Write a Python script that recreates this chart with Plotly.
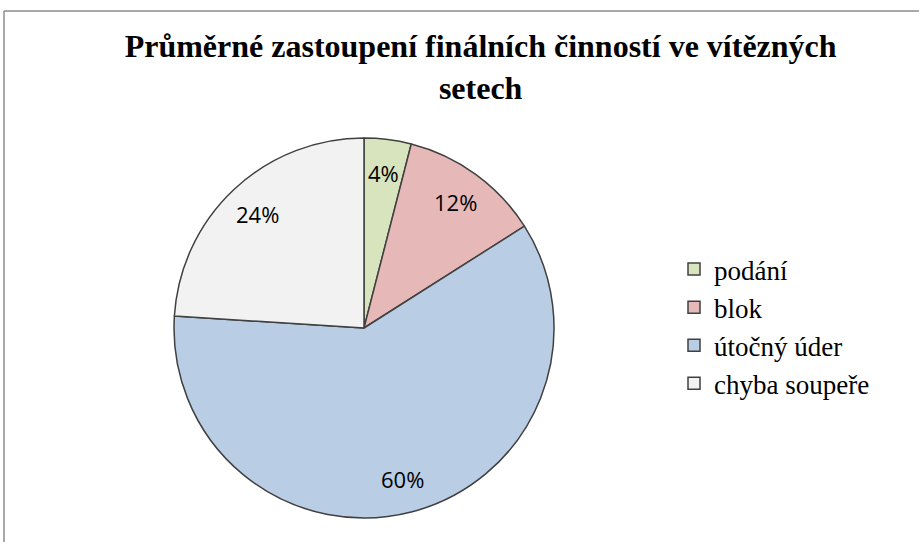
import math
import plotly.graph_objects as go

categories = ["podání", "blok", "útočný úder", "chyba soupeře"]
values = [4, 12, 60, 24]
colors = ["#D7E4BD", "#E6B9B8", "#B9CDE5", "#F2F2F2"]
title_text = "Průměrné zastoupení finálních činností ve vítězných<br>setech"

W, H = 919, 542
cx, cy, r = 364, 328, 190

fig = go.Figure(go.Pie(
    labels=categories,
    values=values,
    sort=False,
    direction="clockwise",
    rotation=0,
    marker=dict(colors=colors, line=dict(color="#404040", width=1.5)),
    textinfo="none",
    domain=dict(x=[(cx - r) / W, (cx + r) / W], y=[1 - (cy + r) / H, 1 - (cy - r) / H]),
    hoverinfo="label+percent",
))

# percentage labels placed along each slice's mid-angle (computed from the data)
total = sum(values)
annotations = []
cum = 0
for v in values:
    mid = (cum + v / 2) / total * 2 * math.pi  # clockwise from top
    cum += v
    rr = 0.82 * r
    px = cx + rr * math.sin(mid)
    py = cy - rr * math.cos(mid)
    annotations.append(dict(
        x=px / W, y=1 - py / H, xref="paper", yref="paper", showarrow=False,
        text=f"{round(v / total * 100)}%",
        font=dict(family="Open Sans", size=22, color="#000000"),
        xanchor="center", yanchor="middle",
    ))

fig.update_layout(
    width=W, height=H,
    margin=dict(l=0, r=0, t=0, b=0),
    paper_bgcolor="white",
    title=dict(text=title_text, x=0.523, xanchor="center", y=1 - 57 / H, yanchor="middle",
               font=dict(family="Liberation Serif", size=32, color="#000000", weight="bold")),
    legend=dict(x=674 / W, xanchor="left", y=1 - 245 / H, yanchor="top",
                font=dict(family="Liberation Serif", size=27, color="#000000"),
                itemwidth=30, bgcolor="rgba(0,0,0,0)"),
    annotations=annotations,
    shapes=[
        dict(type="line", xref="paper", yref="paper", x0=4 / W, x1=1, y0=1 - 11 / H, y1=1 - 11 / H,
             line=dict(color="#8C8C8C", width=1.5)),
        dict(type="line", xref="paper", yref="paper", x0=4 / W, x1=4 / W, y0=0, y1=1 - 11 / H,
             line=dict(color="#8C8C8C", width=1.5)),
    ],
)

fig.write_html("out.html", config={"displayModeBar": False},
               post_script="document.body.style.margin='0';document.body.style.overflow='hidden';")
